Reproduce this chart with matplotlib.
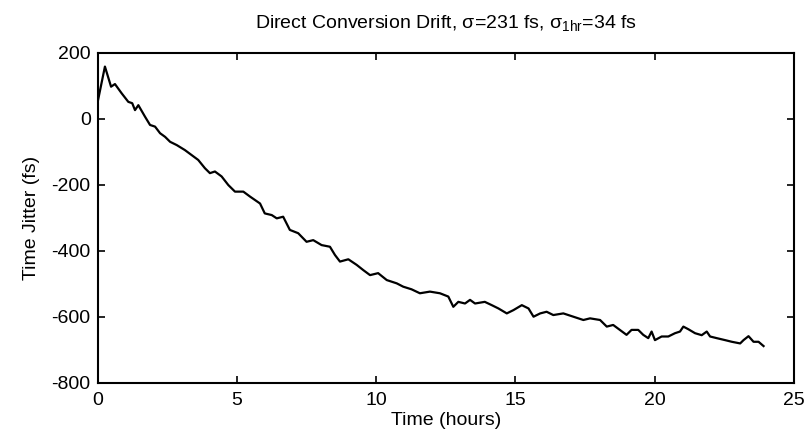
import matplotlib.pyplot as plt

# curve (hours, fs)
t_hours = [0.0, 0.26, 0.48, 0.62, 0.86, 1.10, 1.24, 1.34, 1.46, 1.70, 1.88, 2.06,
           2.24, 2.42, 2.60, 2.84, 3.13, 3.37, 3.61, 3.85, 4.03, 4.21, 4.45, 4.69,
           4.93, 5.23, 5.47, 5.83, 6.00, 6.25, 6.43, 6.66, 6.90, 7.20, 7.50, 7.74,
           8.04, 8.34, 8.52, 8.70, 9.00, 9.30, 9.54, 9.78, 10.07, 10.38, 10.74,
           10.97, 11.27, 11.57, 11.93, 12.29, 12.59, 12.77, 12.95, 13.19, 13.37,
           13.55, 13.90, 14.15, 14.39, 14.69, 14.93, 15.23, 15.47, 15.65, 15.89,
           16.12, 16.36, 16.72, 17.08, 17.44, 17.68, 18.04, 18.28, 18.51, 18.75,
           18.99, 19.17, 19.41, 19.59, 19.77, 19.89, 20.01, 20.25, 20.49, 20.73,
           20.91, 21.03, 21.21, 21.45, 21.69, 21.87, 21.99, 22.23, 22.53, 22.77,
           23.07, 23.19, 23.37, 23.55, 23.73, 23.91]
jitter_fs = [51, 158, 97, 105, 77, 51, 47, 26, 41, 6, -19, -24,
             -44, -55, -70, -80, -95, -110, -125, -150, -165, -160, -175, -201,
             -221, -221, -236, -257, -287, -292, -302, -297, -337, -347, -373, -368,
             -383, -388, -413, -433, -426, -443, -459, -474, -468, -489, -499,
             -509, -517, -529, -524, -529, -539, -570, -555, -560, -549,
             -560, -555, -565, -575, -590, -580, -565, -575, -600, -590,
             -585, -595, -590, -600, -610, -605, -610, -630, -625, -640,
             -655, -640, -640, -655, -665, -645, -671, -660, -660, -650,
             -645, -630, -638, -650, -656, -645, -660, -665, -671, -676,
             -681, -671, -659, -676, -676, -689]

x_ticks = [0, 5, 10, 15, 20, 25]
y_ticks = [-800, -600, -400, -200, 0, 200]

plt.rcParams['font.family'] = ['Liberation Sans', 'DejaVu Sans']
plt.rcParams['axes.unicode_minus'] = False

fig = plt.figure(figsize=(8.06, 4.41), dpi=100)
ax = fig.add_axes([0.1212, 0.1322, 0.8638, 0.7483])

ax.plot(t_hours, jitter_fs, color='black', linewidth=1.6)

ax.set_xlim(0, 25)
ax.set_ylim(-800, 200)
ax.set_xticks(x_ticks)
ax.set_yticks(y_ticks)
ax.tick_params(direction='in', length=5, width=1.2, top=True, right=True,
               labelsize=14)
ax.tick_params(axis='x', pad=7)
ax.tick_params(axis='y', pad=5)
for s in ax.spines.values():
    s.set_linewidth(1.5)

ax.set_xlabel('Time (hours)', fontsize=14, labelpad=2)
ax.set_ylabel('Time Jitter (fs)', fontsize=14, labelpad=8)
ax.set_title(r'Direct Conversion Drift, σ=231 fs, σ$_{\mathregular{1hr}}$=34 fs',
             fontsize=14, pad=17)

fig.savefig('out.png', dpi=100)
